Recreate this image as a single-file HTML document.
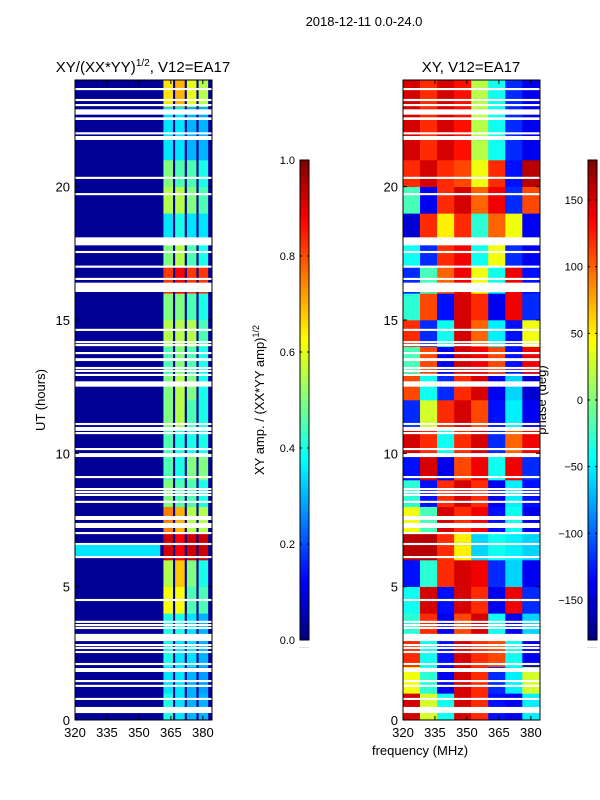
<!DOCTYPE html>
<html><head><meta charset="utf-8"><style>
body{margin:0;background:#fff;}
svg{display:block;font-family:"Liberation Sans",sans-serif;}
</style></head><body>
<svg id="fig" width="600" height="800" viewBox="0 0 600 800" xmlns="http://www.w3.org/2000/svg">
<rect width="600" height="800" fill="#fff"/>
<text x="364" y="26" font-size="13" text-anchor="middle">2018-12-11 0.0-24.0</text>
<text x="143" y="72" font-size="15" text-anchor="middle">XY/(XX*YY)<tspan font-size="10" dy="-6">1/2</tspan><tspan dy="6">, V12=EA17</tspan></text>
<text x="471" y="72" font-size="15" text-anchor="middle">XY, V12=EA17</text>
<text transform="translate(45,400) rotate(-90)" font-size="13" text-anchor="middle">UT (hours)</text>
<text transform="translate(264,400) rotate(-90)" font-size="13" text-anchor="middle">XY amp. / (XX*YY amp)<tspan font-size="9" dy="-5">1/2</tspan></text>
<text transform="translate(546,400) rotate(-90)" font-size="13" text-anchor="middle">phase (deg)</text>
<text x="420" y="755" font-size="13" text-anchor="middle">frequency (MHz)</text>
<g id="ampPanel"></g>
<g id="phPanel"></g>
<g id="cb1"></g>
<g id="cb2"></g>
</svg>
<script>
const hours=[0,1,2,3,4,5,6,7,8,9,10,11,12,13,14,15,16,17,18,19,20,21,22,23];
const bandEdges=[[361.5,366],[367,371.5],[372.5,377],[378,382.5]];
const ampBg=0.02;
const ampBands=[
[.4,.35,.3,.3],[.35,.35,.3,.28],[.4,.35,.35,.3],[.4,.4,.35,.3],[.62,.62,.45,.45],
[.55,.68,.5,.4],[.92,.88,.92,.92],[.75,.7,.55,.55],[.5,.45,.45,.4],[.45,.4,.5,.5],
[.45,.4,.4,.4],[.5,.55,.45,.4],[.5,.55,.5,.4],[.45,.5,.45,.4],[.55,.55,.55,.45],
[.5,.5,.45,.4],[.82,.88,.82,.82],[.5,.55,.45,.4],[.35,.4,.35,.35],[.55,.55,.5,.45],
[.5,.45,.45,.4],[.35,.35,.3,.3],[.35,.35,.3,.3],[.65,.7,.6,.55]];
const ampStripe=[6.1,6.6,320,360,0.35];
const phaseCols=[320,328,336,344,352,360,368,376,384.3];
const phase=[
[150,30,-40,150,120,-130,-140,-50],
[40,-30,-140,150,120,-120,-50,30],
[120,-40,-130,150,120,110,-40,-140],
[-30,120,-140,110,150,-40,-140,-60],
[-40,150,-130,150,120,-140,140,-120],
[-130,-30,120,150,140,-120,-60,-140],
[160,160,120,50,-60,-40,-50,-60],
[40,-20,150,120,140,-130,-40,-140],
[-30,-130,120,150,120,-140,-50,-130],
[-130,150,-140,110,140,-40,140,-120],
[150,120,-40,120,150,-120,100,140],
[-120,30,120,150,110,-130,-50,-140],
[110,-40,-120,120,150,-140,-60,-150],
[-20,110,-140,150,140,110,-130,140],
[120,-120,-40,150,100,-50,-130,40],
[-30,110,-130,150,120,-140,140,-120],
[-120,-20,100,140,40,-40,140,-130],
[-40,-120,120,140,-40,40,-120,-140],
[-150,120,50,120,-30,100,40,-140],
[-20,-140,120,150,100,140,-120,110],
[120,150,120,110,40,120,-130,160],
[150,120,150,130,20,-40,-120,-140],
[150,120,150,130,20,-40,-120,-140],
[150,120,150,130,20,-40,-120,-140]];
const flags=[[23.62,23.7],[23.21,23.29],[23.02,23.1],[22.7,22.9],[22.5,22.6],[21.96,22.04],[21.82,21.9],[21.75,21.83],
[20.29,20.37],[19.68,19.76],[17.8,18.1],[17.51,17.59],[16.96,17.04],[16.5,16.58],[16.05,16.4],[14.59,14.67],[14.13,14.21],
[14.02,14.1],[13.72,13.8],[13.46,13.57],[13.16,13.24],[13.05,13.13],[12.9,12.98],[12.5,12.7],[11.06,11.14],[10.84,10.99],
[10.72,10.8],[10.12,10.2],[9.86,10.01],[9.07,9.15],[8.62,8.7],[8.51,8.59],[8.4,8.48],[8.14,8.22],[7.57,7.65],[7.5,7.58],
[7.2,7.39],[6.97,7.05],[6.56,6.64],[6.07,6.15],[4.46,4.54],[3.64,3.72],[3.52,3.6],[3.41,3.49],[2.96,3.23],[2.77,2.85],
[2.66,2.74],[2.51,2.59],[2.06,2.14],[1.8,1.95],[1.42,1.5],[1.24,1.32],[0.75,0.83],[0.26,0.49]];
const ampTicks=[0,0.2,0.4,0.6,0.8,1.0];
const phTicks=[-150,-100,-50,0,50,100,150];
const xTicks=[320,335,350,365,380];
const yTicks=[0,5,10,15,20];

const NS="http://www.w3.org/2000/svg";
function jet(v){v=Math.max(0,Math.min(1,v));
 const r=Math.max(0,Math.min(1,1.5-Math.abs(4*v-3))),g=Math.max(0,Math.min(1,1.5-Math.abs(4*v-2))),b=Math.max(0,Math.min(1,1.5-Math.abs(4*v-1)));
 return `rgb(${Math.round(r*255)},${Math.round(g*255)},${Math.round(b*255)})`;}
function mk(p,tag,attrs){const e=document.createElementNS(NS,tag);for(const k in attrs)e.setAttribute(k,attrs[k]);p.appendChild(e);return e;}
const Y0=720,Y1=80,T1=24;
const yS=h=>Y0-(h/T1)*(Y0-Y1);
const F0=320,F1=384.3;
function panel(x0,x1){return f=>x0+(f-F0)/(F1-F0)*(x1-x0);}
const gA=document.getElementById('ampPanel');
const xA=panel(75,212);
let r=mk(gA,'rect',{x:75,y:80,width:137,height:640,fill:jet(ampBg)});


hours.forEach((h,i)=>{bandEdges.forEach((be,j)=>{
 const c=mk(gA,'rect',{x:xA(be[0]),y:yS(h+1),width:xA(be[1])-xA(be[0]),height:yS(h)-yS(h+1)+0.3,fill:jet(ampBands[i][j])});
 
 
});});
r=mk(gA,'rect',{x:xA(ampStripe[2]),y:yS(ampStripe[1]),width:xA(ampStripe[3])-xA(ampStripe[2]),height:yS(ampStripe[0])-yS(ampStripe[1]),fill:jet(ampStripe[4])});


const gP=document.getElementById('phPanel');
const xP=panel(403,540);
hours.forEach((h,i)=>{for(let j=0;j<phaseCols.length-1;j++){
 const c=mk(gP,'rect',{x:xP(phaseCols[j]),y:yS(h+1),width:xP(phaseCols[j+1])-xP(phaseCols[j])+0.3,height:yS(h)-yS(h+1)+0.3,fill:jet((phase[i][j]+180)/360)});
 
 
}});
[[gA,75,xA],[gP,403,xP]].forEach(([g,x0,xs])=>{
 flags.forEach(f=>{const e=mk(g,'rect',{x:x0,y:yS(f[1]),width:137,height:Math.max(1.5,yS(f[0])-yS(f[1])),fill:'#fff'});
  
  });
 const fr=mk(g,'rect',{x:x0,y:80,width:137,height:640,fill:'none',stroke:'#000','stroke-width':1});
 
 
 xTicks.forEach(t=>{const x=xs(t);
  mk(g,'line',{x1:x,x2:x,y1:720,y2:716,stroke:'#000'});mk(g,'line',{x1:x,x2:x,y1:80,y2:84,stroke:'#000'});
  const tx=mk(g,'text',{x:x,y:737,'font-size':13,'text-anchor':'middle'});tx.textContent=t;
  
  });
 yTicks.forEach(t=>{const y=yS(t);
  mk(g,'line',{x1:x0,x2:x0+4,y1:y,y2:y,stroke:'#000'});mk(g,'line',{x1:x0+133,x2:x0+137,y1:y,y2:y,stroke:'#000'});
  const tx=mk(g,'text',{x:x0-5,y:y+5,'font-size':13,'text-anchor':'end'});tx.textContent=t;
  
  });
});
function cbar(id,x,lo,hi,ticks,fmt){
 const g=document.getElementById(id);
 const n=120,h=480;
 for(let i=0;i<n;i++){mk(g,'rect',{x:x,y:640-(i+1)*h/n,width:9,height:h/n+0.5,fill:jet((i+0.5)/n)});}
 mk(g,'rect',{x:x,y:160,width:9,height:480,fill:'none',stroke:'#000'});
 ticks.forEach(t=>{const y=640-(t-lo)/(hi-lo)*h;
  mk(g,'line',{x1:x,x2:x+2,y1:y,y2:y,stroke:'#000'});mk(g,'line',{x1:x+7,x2:x+9,y1:y,y2:y,stroke:'#000'});
  const tx=mk(g,'text',{x:x-5,y:y+4,'font-size':11,'text-anchor':'end'});
  tx.textContent=fmt?t.toFixed(1):(t<0?'\u2212'+(-t):t);
  
  });
 const d=mk(g,'text',{x:x+4,y:648,'font-size':6,'text-anchor':'middle',fill:'#888'});d.textContent='......';
}
cbar('cb1',300,0,1,ampTicks,true);
cbar('cb2',588,-180,180,phTicks,false);
</script>
</body></html>
